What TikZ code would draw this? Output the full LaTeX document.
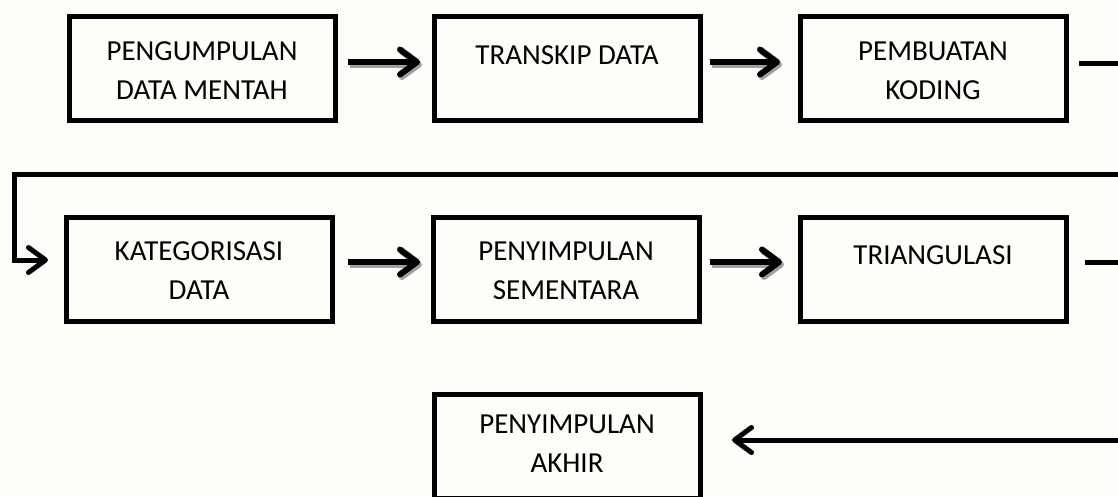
\documentclass[tikz,border=0pt]{standalone}
\usepackage{fontspec}
\setmainfont{Carlito}
\usetikzlibrary{arrows.meta}
\definecolor{bg}{RGB}{253,253,249}
\definecolor{shade}{RGB}{160,160,160}
\tikzset{
  box/.style={draw=black, line width=5pt, minimum width=266pt, minimum height=104pt, inner sep=0pt, outer sep=0pt},
  lbl/.style={anchor=north, align=center, inner sep=0pt, font=\fontsize{29}{39}\selectfont},
  tip/.style={-{Straight Barb[length=17pt, width=25pt, round]}},
  conn/.style={line width=5pt, tip, line join=miter},
  flow/.style={line width=6pt, tip},
  flowshadow/.style={line width=6pt, tip, draw=shade}
}
\begin{document}
\begin{tikzpicture}[x=1pt,y=-1pt]
\fill[bg] (0,0) rectangle (1118,496);
\useasboundingbox (0,0) rectangle (1118,496);
\clip (0,0) rectangle (1118,496);

% boxes
\node[box] (b1) at (202,68) {};
\node[box] (b2) at (567,68) {};
\node[box] (b3) at (933,68) {};
\node[box] (b4) at (199,269.5) {};
\node[box] (b5) at (566,269.5) {};
\node[box] (b6) at (933,269.5) {};
\node[box] (b7) at (567,446) {};

% labels
\node[lbl] (t1) at ([shift={(0,25.7)}]b1.north) {PENGUMPULAN\\DATA MENTAH};
\node[lbl] (t2) at ([shift={(0,29)}]b2.north) {TRANSKIP DATA};
\node[lbl] (t3) at ([shift={(0,25.7)}]b3.north) {PEMBUATAN\\KODING};
\node[lbl] (t4) at ([shift={(0,24.2)}]b4.north) {KATEGORISASI\\DATA};
\node[lbl] (t5) at ([shift={(0,24.2)}]b5.north) {PENYIMPULAN\\SEMENTARA};
\node[lbl] (t6) at ([shift={(0,27.5)}]b6.north) {TRIANGULASI};
\node[lbl] (t7) at ([shift={(0,21)}]b7.north) {PENYIMPULAN\\AKHIR};

% shadowed arrows
\draw[flowshadow] ([shift={(15,-3.5)}]b1.east) -- ([shift={(-12,-3.5)}]b2.west);
\draw[flow] ([shift={(13,-6)}]b1.east) -- ([shift={(-14,-6)}]b2.west);
\draw[flowshadow] ([shift={(12,-3.5)}]b2.east) -- ([shift={(-18,-3.5)}]b3.west);
\draw[flow] ([shift={(10,-6)}]b2.east) -- ([shift={(-20,-6)}]b3.west);
\draw[flowshadow] ([shift={(18,-5)}]b4.east) -- ([shift={(-11,-5)}]b5.west);
\draw[flow] ([shift={(16,-7.5)}]b4.east) -- ([shift={(-13,-7.5)}]b5.west);
\draw[flowshadow] ([shift={(13,-5)}]b5.east) -- ([shift={(-16,-5)}]b6.west);
\draw[flow] ([shift={(11,-7.5)}]b5.east) -- ([shift={(-18,-7.5)}]b6.west);

% return connectors
\coordinate (r1) at (1140,63);
\coordinate (r2) at (1140,174);
\coordinate (l1) at (14,174);
\draw[conn] ([shift={(13,-5)}]b3.east) -- (r1) -- (r2) -- (l1) |- ([shift={(-18,-9.5)}]b4.west);

\coordinate (r3) at (1140,262);
\coordinate (r4) at (1140,440);
\draw[conn] ([shift={(19,-7.5)}]b6.east) -- (r3) -- (r4) -- ([shift={(32,-6)}]b7.east);
\end{tikzpicture}
\end{document}
